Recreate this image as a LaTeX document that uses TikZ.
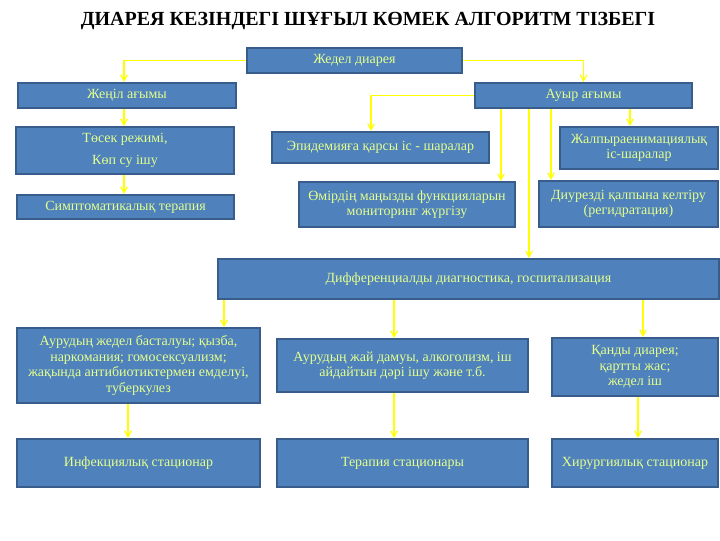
\documentclass[tikz,border=0pt]{standalone}
\usepackage{fontspec}
\setmainfont{Liberation Serif}
\usetikzlibrary{arrows.meta, positioning, calc}
\definecolor{sblue}{HTML}{4F81BD}
\definecolor{sedge}{HTML}{385D8A}
\definecolor{sline}{HTML}{FFFF00}
\definecolor{stext}{HTML}{E4FF8C}
\newlength{\pxu}
\setlength{\pxu}{0.75pt}
\tikzset{
  box/.style={
    draw=sedge, fill=sblue, line width=1.5pt, text=stext,
    align=center, inner sep=0pt, font=\fontsize{10.5}{11.6}\selectfont
  },
  arr/.style={draw=sline, line width=0.9pt, -{Straight Barb[length=4.5pt,width=5pt]}},
  heading/.style={font=\bfseries\fontsize{15}{18}\selectfont, text=black}
}
\begin{document}
\begin{tikzpicture}[x=0.75pt,y=-0.75pt]
  \useasboundingbox (0,0) rectangle (720,540);
  \node[heading] (title) at (368,21) {ДИАРЕЯ КЕЗІНДЕГІ ШҰҒЫЛ КӨМЕК АЛГОРИТМ ТІЗБЕГІ};
  % top level
  \node[box,minimum width=215\pxu,minimum height=25\pxu] (zhedel) at (354.5,60.5) {Жедел диарея};
  \node[box,minimum width=218\pxu,minimum height=25\pxu] (zhenil) at (127,95.5) {Жеңіл ағымы};
  \node[box,minimum width=217\pxu,minimum height=25\pxu] (auyr) at (583.5,95.5) {Ауыр ағымы};
  % mild branch
  \node[box,minimum width=218\pxu,minimum height=47\pxu] (tosek) at (125,150.5) {Төсек режимі,\\[4.5pt]Көп су ішу};
  \node[box,minimum width=217\pxu,minimum height=24\pxu] (simpt) at (125.5,207) {Симптоматикалық терапия};
  % severe branch
  \node[box,minimum width=217\pxu,minimum height=31\pxu] (epidem) at (380.5,147.5) {Эпидемияға қарсы іс - шаралар};
  \node[box,minimum width=158\pxu,minimum height=42\pxu] (zhalpy) at (639,148) {Жалпыраенимациялық\\іс-шаралар};
  \node[box,minimum width=216\pxu,minimum height=45\pxu] (omir) at (407,204.5) {Өмірдің маңызды функцияларын\\мониторинг жүргізу};
  \node[box,minimum width=179\pxu,minimum height=46\pxu] (diurez) at (628.5,204) {Диурезді қалпына келтіру\\(регидратация)};
  \node[box,minimum width=501\pxu,minimum height=40\pxu] (diff) at (468.5,279) {Дифференциалды диагностика, госпитализация};
  % criteria
  \node[box,minimum width=243\pxu,minimum height=75\pxu] (aur1) at (138.5,365.5)
    {Аурудың жедел басталуы; қызба,\\наркомания; гомосексуализм;\\жақында антибиотиктермен емделуі,\\туберкулез};
  \node[box,minimum width=251\pxu,minimum height=53\pxu] (aur2) at (402.5,365.5)
    {Аурудың жай дамуы, алкоголизм, іш\\айдайтын дәрі ішу және т.б.};
  \node[box,minimum width=166\pxu,minimum height=58\pxu] (qandy) at (635,367)
    {Қанды диарея;\\қартты жас;\\ жедел іш};
  % hospitals
  \node[box,minimum width=243\pxu,minimum height=48\pxu] (infek) at (138.5,463) {Инфекциялық стационар};
  \node[box,minimum width=251\pxu,minimum height=48\pxu] (terap) at (402.5,463) {Терапия стационары};
  \node[box,minimum width=166\pxu,minimum height=48\pxu] (hirur) at (635,463) {Хирургиялық стационар};

  \draw[arr] (zhedel.west) -| ([xshift=-3\pxu]zhenil.north);
  \draw[arr] (zhedel.east) -| (auyr.north);
  \draw[arr] ([xshift=-3\pxu]zhenil.south) -- ([xshift=-3\pxu]zhenil.south |- tosek.north);
  \draw[arr] ([xshift=-1\pxu]tosek.south) -- ([xshift=-1\pxu]tosek.south |- simpt.north);
  \draw[arr] (auyr.west) -| ([xshift=-9.5\pxu]epidem.north);
  \draw[arr] ([xshift=-82.5\pxu]auyr.south) -- ([xshift=-82.5\pxu]auyr.south |- omir.north);
  \draw[arr] ([xshift=-54.5\pxu]auyr.south) -- ([xshift=-54.5\pxu]auyr.south |- diff.north);
  \draw[arr] ([xshift=-32.5\pxu]auyr.south) -- ([xshift=-32.5\pxu]auyr.south |- diurez.north);
  \draw[arr] ([xshift=46.5\pxu]auyr.south) -- ([xshift=46.5\pxu]auyr.south |- zhalpy.north);
  \draw[arr] ([xshift=-244.5\pxu]diff.south) -- ([xshift=-244.5\pxu]diff.south |- aur1.north);
  \draw[arr] ([xshift=-74.5\pxu]diff.south) -- ([xshift=-74.5\pxu]diff.south |- aur2.north);
  \draw[arr] ([xshift=174.5\pxu]diff.south) -- ([xshift=174.5\pxu]diff.south |- qandy.north);
  \draw[arr] ([xshift=-10.5\pxu]aur1.south) -- ([xshift=-10.5\pxu]aur1.south |- infek.north);
  \draw[arr] ([xshift=-8.5\pxu]aur2.south) -- ([xshift=-8.5\pxu]aur2.south |- terap.north);
  \draw[arr] ([xshift=3\pxu]qandy.south) -- ([xshift=3\pxu]qandy.south |- hirur.north);
\end{tikzpicture}
\end{document}
